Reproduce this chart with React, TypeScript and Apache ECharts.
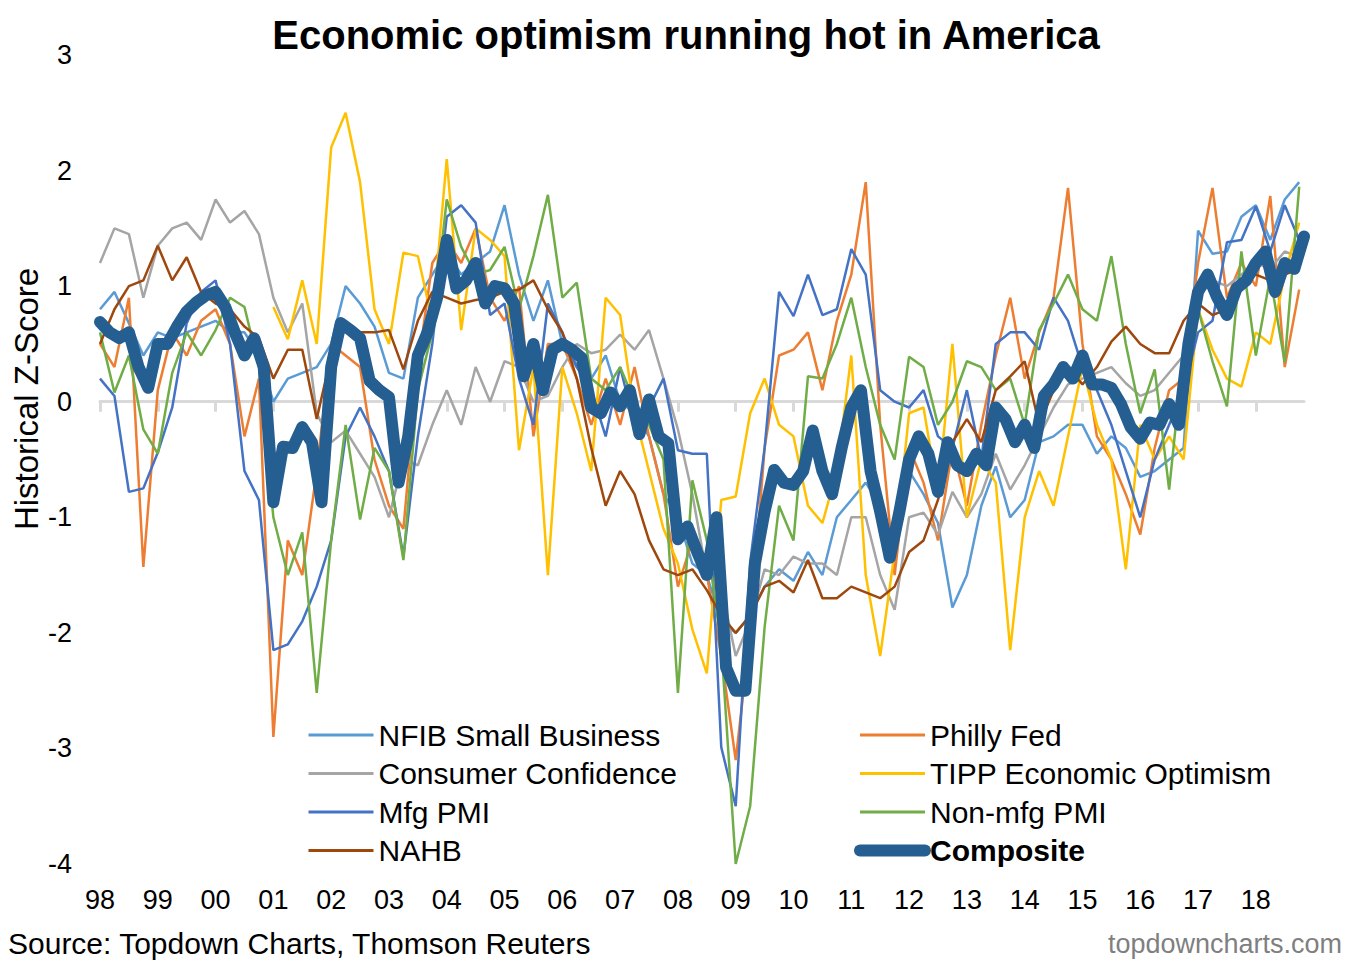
import React, { useEffect, useRef } from "react";
import * as echarts from "echarts";

const START_YEAR = 1998;
const QUARTER_STEP = 0.25;
const COMPOSITE_STEP = 1 / 6;
const X_MAX = 2018.8333;
const yearTicks = [1998, 1999, 2000, 2001, 2002, 2003, 2004, 2005, 2006, 2007, 2008, 2009, 2010, 2011, 2012, 2013, 2014, 2015, 2016, 2017, 2018];

const nfib = [0.8, 0.95, 0.68, 0.4, 0.6, 0.55, 0.6, 0.65, 0.7, 0.6,
  0.6, 0.4, 0.0, 0.2, 0.25, 0.3, 0.5, 1.0, 0.85, 0.65,
  0.25, 0.2, 0.9, 1.1, 1.3, 1.1, 1.2, 1.3, 1.7, 1.1,
  0.7, 1.05, 0.5, 0.3, 0.2, 0.4, 0.0, -0.1, -0.3, -0.8,
  -1.0, -1.4, -1.5, -1.9, -2.0, -1.85, -1.6, -1.45, -1.55, -1.3,
  -1.5, -1.0, -0.85, -0.7, -0.9, -1.3, -0.6, -0.8, -1.05, -1.78,
  -1.5, -0.9, -0.56, -1.0, -0.85, -0.35, -0.3, -0.2, -0.2, -0.45,
  -0.3, -0.4, -0.65, -0.6, -0.5, -0.4, 1.48, 1.28, 1.3, 1.6,
  1.7, 1.4, 1.75, 1.9];

const phillyFed = [0.5, 0.3, 0.9, -1.43, 0.1, 0.6, 0.4, 0.7, 0.8, 0.5,
  -0.3, 0.2, -2.9, -1.2, -1.5, -0.6, 0.5, 0.4, 0.3, -0.5,
  -0.9, -1.1, 0.3, 1.2, 1.4, 1.2, 1.5, 0.9, 0.7, 1.0,
  -0.3, 0.5, 0.5, 0.2, -0.2, 0.2, -0.2, 0.3, -0.3, -0.8,
  -1.6, -1.2, -1.5, -2.2, -3.1, -2.0, -0.4, 0.4, 0.45, 0.6,
  0.1, 0.7, 1.1, 1.9, -0.2, -1.5, -0.4, -0.7, -1.2, -0.4,
  -0.9, -0.2, 0.4, 0.9, 0.2, 0.6, 0.9, 1.85, 0.5, -0.3,
  -0.5, -0.8, -1.15, -0.4, 0.1, 0.2, 1.2, 1.85, 0.9, 1.2,
  1.0, 1.78, 0.3, 0.97];

const consumerConfidence = [1.2, 1.5, 1.45, 0.9, 1.35, 1.5, 1.55, 1.4, 1.75, 1.55,
  1.65, 1.45, 0.9, 0.6, 0.85, -0.1, -0.35, -0.25, -0.45, -0.65,
  -1.0, -0.5, -0.55, -0.2, 0.1, -0.2, 0.3, 0.0, 0.35, 0.3,
  0.0, 0.05, 0.3, 0.5, 0.42, 0.45, 0.58, 0.45, 0.62, 0.2,
  -0.24, -0.8, -1.5, -1.6, -2.2, -1.9, -1.45, -1.5, -1.34, -1.4,
  -1.4, -1.5, -1.0, -1.0, -1.5, -1.8, -1.0, -0.96, -1.15, -0.78,
  -1.0, -0.8, -0.45, -0.76, -0.55, -0.3, -0.05, 0.15, 0.2, 0.25,
  0.3, 0.16, 0.05, 0.1, 0.25, 0.4, 0.9, 1.05, 1.0, 1.1,
  1.2, 1.15, 1.3, 1.25];

const tipp = [null, null, null, null, null, null, null, null, null, null, null, null,
  0.82, 0.54, 1.05, 0.5, 2.2, 2.5, 1.9, 0.8,
  0.5, 1.29, 1.26, 0.7, 2.1, 0.62, 1.5, 1.4, 1.26, -0.42,
  0.3, -1.5, 0.3, -0.1, -0.6, 0.9, 0.75, -0.1, -0.6, -1.1,
  -1.4, -1.97, -2.35, -0.85, -0.82, -0.1, 0.2, -0.2, -0.3, -0.9,
  -1.05, -0.6, 0.4, -1.5, -2.2, -1.3, -0.1, -0.05, -0.8, 0.5,
  -1.0, -0.5, -0.7, -2.15, -1.0, -0.6, -0.9, -0.3, 0.3, -0.2,
  -0.5, -1.45, -0.2, -0.5, -0.3, -0.5, 0.8, 0.45, 0.2, 0.13,
  0.6, 0.5, 1.1, 1.55];

const mfgPmi = [0.2, 0.05, -0.78, -0.75, -0.44, -0.05, 0.68, 0.95, 1.05, 0.5,
  -0.6, -0.85, -2.15, -2.1, -1.9, -1.6, -1.2, -0.3, -0.05, -0.3,
  -0.6, -1.34, -0.3, 0.5, 1.6, 1.7, 1.55, 0.75, 0.85, 0.2,
  -0.2, 0.85, 0.6, 0.3, 0.1, -0.3, 0.3, -0.2, -0.05, 0.2,
  -0.42, -0.45, -0.45, -2.99, -3.5, -1.39, -0.4, 0.95, 0.74, 1.1,
  0.75, 0.8, 1.32, 1.1, 0.1, 0.0, -0.05, 0.1, -0.3, -0.4,
  0.1, -0.5, 0.5, 0.6, 0.6, 0.45, 0.9, 0.7, 0.3, 0.1,
  -0.2, -0.6, -1.0, -0.5, -0.2, 0.1, 0.6, 0.7, 1.38, 1.4,
  1.69, 1.3, 1.7, 1.4];

const nonMfgPmi = [0.6, 0.08, 0.4, -0.24, -0.45, 0.25, 0.6, 0.4, 0.62, 0.9,
  0.82, 0.3, -1.0, -1.5, -1.13, -2.52, -1.2, -0.2, -1.02, -0.4,
  -0.6, -1.37, 0.1, 0.6, 1.75, 1.34, 1.1, 1.14, 1.34, 0.8,
  1.26, 1.79, 0.9, 1.03, 0.2, 0.1, 0.3, 0.0, -0.2, -0.5,
  -2.52, -0.68, -1.2, -2.1, -4.0, -3.5, -1.95, -0.9, -1.2, 0.22,
  0.2, 0.5, 0.9, 0.3, -0.2, -0.5, 0.39, 0.3, -0.2, 0.0,
  0.35, 0.3, 0.1, 0.2, -0.2, 0.62, 0.85, 1.1, 0.8, 0.7,
  1.26, 0.5, -0.1, 0.28, -0.76, 0.45, 0.8, 0.35, -0.04, 1.3,
  0.4, 1.08, 0.34, 1.86];

const nahb = [0.5, 0.8, 1.0, 1.05, 1.35, 1.05, 1.25, 0.95, 0.85, 0.8,
  0.65, 0.55, 0.2, 0.45, 0.45, -0.15, 0.4, 0.65, 0.6, 0.6,
  0.62, 0.28, 0.7, 0.95, 0.9, 0.85, 0.88, 0.9, 0.95, 0.97,
  1.05, 0.8, 0.6, 0.2, -0.4, -0.9, -0.6, -0.8, -1.2, -1.45,
  -1.5, -1.45, -1.63, -1.85, -2.0, -1.85, -1.6, -1.55, -1.65, -1.37,
  -1.7, -1.7, -1.6, -1.65, -1.7, -1.6, -1.3, -1.2, -0.85, -0.35,
  -0.15, -0.35, 0.1, 0.22, 0.35, -0.2, 0.1, 0.3, 0.15, 0.3,
  0.52, 0.65, 0.5, 0.42, 0.42, 0.7, 0.85, 0.75, 0.8, 1.0,
  1.1, 1.05, 1.1, 1.15];

const composite = [0.69, 0.6, 0.55, 0.6, 0.3, 0.12, 0.5, 0.5, 0.65, 0.78,
  0.86, 0.92, 0.95, 0.82, 0.6, 0.4, 0.55, 0.3, -0.87, -0.39,
  -0.4, -0.22, -0.35, -0.87, 0.3, 0.68, 0.62, 0.55, 0.18, 0.1,
  0.04, -0.7, -0.3, 0.4, 0.6, 0.9, 1.4, 0.98, 1.05, 1.2,
  0.85, 1.0, 0.98, 0.85, 0.22, 0.5, 0.1, 0.45, 0.5, 0.45,
  0.38, -0.05, -0.1, 0.08, -0.04, 0.1, -0.28, 0.02, -0.3, -0.36,
  -1.19, -1.08, -1.3, -1.5, -1.0, -2.3, -2.5, -2.5, -1.4, -0.95,
  -0.59, -0.7, -0.72, -0.6, -0.25, -0.6, -0.8, -0.4, -0.05, 0.1,
  -0.6, -0.95, -1.35, -0.95, -0.5, -0.3, -0.45, -0.78, -0.35, -0.55,
  -0.6, -0.45, -0.55, -0.05, -0.15, -0.35, -0.2, -0.4, 0.05, 0.15,
  0.3, 0.2, 0.4, 0.15, 0.15, 0.12, -0.02, -0.22, -0.32, -0.18,
  -0.2, -0.02, -0.2, 0.5, 0.95, 1.1, 0.9, 0.75, 0.98, 1.05,
  1.2, 1.3, 0.95, 1.2, 1.15, 1.43];

const FONT = "'Liberation Sans', Arial, Helvetica, sans-serif";
const COMPOSITE_COLOR = "#255E91";

function toPairs(values: (number | null)[], step: number) {
  return values.map((v, i) => [START_YEAR + i * step, v]);
}

function thin(name: string, values: (number | null)[], color: string) {
  return {
    name,
    type: "line",
    data: toPairs(values, QUARTER_STEP),
    showSymbol: false,
    symbol: "none",
    connectNulls: false,
    lineStyle: { width: 2.5, color },
    itemStyle: { color },
    emphasis: { disabled: true },
  };
}

const legendText = { fontSize: 30, color: "#000", fontFamily: FONT };
const thinItem = (name: string) => ({ name, lineStyle: { width: 3 } });

export default function App() {
  const ref = useRef<HTMLDivElement>(null);
  useEffect(() => {
    document.body.style.margin = "0";
    const chart = echarts.init(ref.current!, null, { renderer: "svg" });
    const yearFmt = (v: number) => (Number.isInteger(v) ? String(v % 100).padStart(2, "0") : "");
    const legendBase = {
      orient: "vertical",
      top: 720,
      padding: 0,
      itemHeight: 14,
      itemGap: 8.5,
      itemStyle: { opacity: 0 },
      textStyle: legendText,
    };
    chart.setOption({
      animation: false,
      textStyle: { fontFamily: FONT },
      title: {
        text: "Economic optimism running hot in America",
        left: 686,
        textAlign: "center",
        top: 15,
        padding: 0,
        textStyle: { fontSize: 40, fontWeight: "bold", color: "#000", fontFamily: FONT },
      },
      grid: { left: 100, right: 46, top: 55, bottom: 105 },
      xAxis: [
        {
          type: "value",
          min: START_YEAR,
          max: X_MAX,
          position: "bottom",
          axisLine: { show: true, onZero: true, lineStyle: { color: "#D9D9D9", width: 3 } },
          axisTick: { show: true, length: 10, customValues: yearTicks, lineStyle: { color: "#D9D9D9", width: 3 } },
          axisLabel: { show: false },
          splitLine: { show: false },
        },
        {
          type: "value",
          min: START_YEAR,
          max: X_MAX,
          position: "bottom",
          axisLine: { show: false, onZero: false },
          axisTick: { show: false },
          axisLabel: {
            show: true,
            customValues: yearTicks,
            formatter: yearFmt,
            fontSize: 27,
            color: "#000",
            margin: 22,
            fontFamily: FONT,
          },
          splitLine: { show: false },
        },
      ],
      yAxis: {
        type: "value",
        min: -4,
        max: 3,
        interval: 1,
        axisLine: { show: false },
        axisTick: { show: false },
        splitLine: { show: false },
        axisLabel: { fontSize: 27, color: "#000", margin: 28, fontFamily: FONT },
      },
      legend: [
        {
          ...legendBase,
          left: 307,
          itemWidth: 65,
          data: ["NFIB Small Business", "Consumer Confidence", "Mfg PMI", "NAHB"].map(thinItem),
        },
        {
          ...legendBase,
          left: 854,
          itemWidth: 65,
          data: [
            thinItem("Philly Fed"),
            thinItem("TIPP Economic Optimism"),
            thinItem("Non-mfg PMI"),
            {
              name: "Composite",
              lineStyle: { width: 12, cap: "round" },
              textStyle: { ...legendText, fontWeight: "bold" },
            },
          ],
        },
      ],
      series: [
        thin("NFIB Small Business", nfib, "#5B9BD5"),
        thin("Philly Fed", phillyFed, "#ED7D31"),
        thin("Consumer Confidence", consumerConfidence, "#A5A5A5"),
        thin("TIPP Economic Optimism", tipp, "#FFC000"),
        thin("Mfg PMI", mfgPmi, "#4472C4"),
        thin("Non-mfg PMI", nonMfgPmi, "#70AD47"),
        thin("NAHB", nahb, "#9E480E"),
        {
          name: "Composite",
          type: "line",
          data: toPairs(composite, COMPOSITE_STEP),
          showSymbol: false,
          symbol: "none",
          z: 5,
          lineStyle: { width: 12, color: COMPOSITE_COLOR, cap: "round", join: "round" },
          itemStyle: { color: COMPOSITE_COLOR },
          emphasis: { disabled: true },
        },
      ],
      graphic: [
        {
          type: "text",
          x: 26,
          y: 399,
          rotation: Math.PI / 2,
          style: {
            text: "Historical Z-Score",
            fontSize: 33,
            fill: "#000",
            fontFamily: FONT,
            align: "center",
            verticalAlign: "middle",
          },
        },
        {
          type: "text",
          left: 8,
          top: 928,
          style: { text: "Source: Topdown Charts, Thomson Reuters", fontSize: 30, fill: "#000", fontFamily: FONT },
        },
        {
          type: "text",
          right: 8,
          top: 930,
          style: { text: "topdowncharts.com", fontSize: 27, fill: "#7F7F7F", fontFamily: FONT },
        },
      ],
    });
    return () => chart.dispose();
  }, []);
  return <div ref={ref} style={{ width: 1350, height: 969 }} />;
}
